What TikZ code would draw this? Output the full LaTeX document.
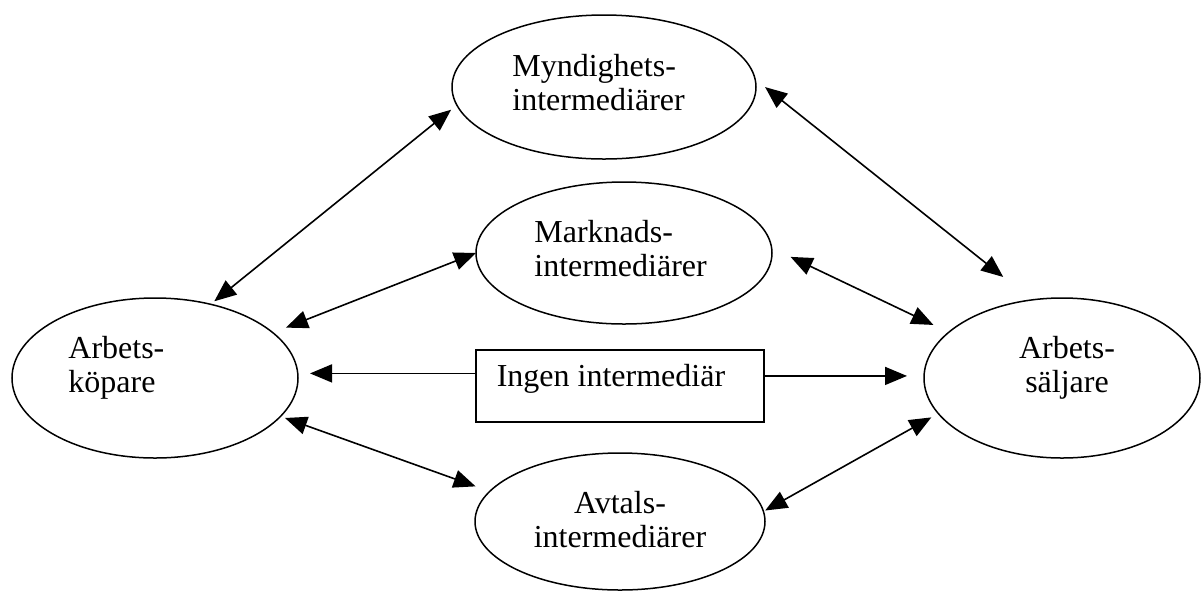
\documentclass[tikz,border=0pt]{standalone}
\usepackage{fontspec}
\setmainfont{Liberation Serif}
\usetikzlibrary{arrows.meta,shapes.geometric}

\begin{document}
\begin{tikzpicture}[x=0.5pt,y=0.5pt,yscale=-1,xscale=1,
		oval/.style={draw,ellipse,line width=0.75pt,inner sep=0pt,outer sep=0pt},
		lbl/.style={inner sep=0pt,font=\fontsize{16}{17}\selectfont},
		twoway/.style={line width=0.8pt,{Triangle[length=11pt,width=9pt]}-{Triangle[length=11pt,width=9pt]}},
		oneway/.style={line width=0.8pt,-{Triangle[length=11pt,width=9pt]}}]
			\useasboundingbox (0,0) rectangle (1201,591);
			
			%Shape: Ellipse 
			\draw (604,87) node [oval,minimum width=152pt,minimum height=72pt] (mynd) {};
			%Shape: Ellipse 
			\draw (624,253) node [oval,minimum width=148pt,minimum height=71pt] (mark) {};
			%Shape: Ellipse 
			\draw (155,378) node [oval,minimum width=143pt,minimum height=80pt] (kop) {};
			%Shape: Ellipse 
			\draw (1062,378) node [oval,minimum width=138pt,minimum height=80pt] (salj) {};
			%Shape: Ellipse 
			\draw (620,521.5) node [oval,minimum width=145pt,minimum height=68.5pt] (avt) {};
			%Shape: Rectangle 
			\draw (620,386) node [draw,line width=0.75pt,inner sep=0pt,outer sep=0pt,minimum width=144pt,minimum height=36pt] (ingen) {};
			
			%Straight Lines 
			\draw [twoway,shorten <=2.4pt,shorten >=3.7pt] (kop.53.76) -- (mynd.187.6) ;
			%Straight Lines 
			\draw [twoway,shorten <=6.4pt,shorten >=18.4pt] (mynd.3) -- (salj.111.2) ;
			%Straight Lines 
			\draw [twoway,shorten <=7pt] (kop.21.46) -- (mark.180) ;
			%Straight Lines 
			\draw [twoway,shorten <=10.5pt,shorten >=8.5pt] (mark.2.87) -- (salj.158.86) ;
			%Straight Lines 
			\draw [oneway,shorten >=6pt] (ingen.175.24) -- (ingen.175.24 -| kop.east) ;
			%Straight Lines 
			\draw [oneway,shorten >=8.5pt] (ingen.4.76) -- (ingen.4.76 -| salj.west) ;
			%Straight Lines 
			\draw [twoway,shorten <=2.4pt,shorten >=7.5pt] (kop.343) -- (avt.167.35) ;
			%Straight Lines 
			\draw [twoway,shorten <=1pt,shorten >=4pt] (avt.4.19) -- (salj.196.39) ;
			
			% Text Node
			\draw (512,83) node [anchor=west] [lbl] [align=left] (myndtxt) {Myndighets-\\intermediärer};
			% Text Node
			\draw (534,249) node [anchor=west] [lbl] [align=left] (marktxt) {Marknads-\\intermediärer};
			% Text Node
			\draw (68,368) node [anchor=west] [lbl] [align=left] (koptxt) {Arbets-\\köpare};
			% Text Node
			\draw (1067,368) node [lbl] [align=center] (saljtxt) {Arbets-\\säljare};
			% Text Node
			\draw (620,520) node [lbl] [align=center] (avttxt) {Avtals-\\intermediärer};
			% Text Node
			\draw (611,379) node [lbl] (ingentxt) {Ingen intermediär};
			
		\end{tikzpicture}
\end{document}
